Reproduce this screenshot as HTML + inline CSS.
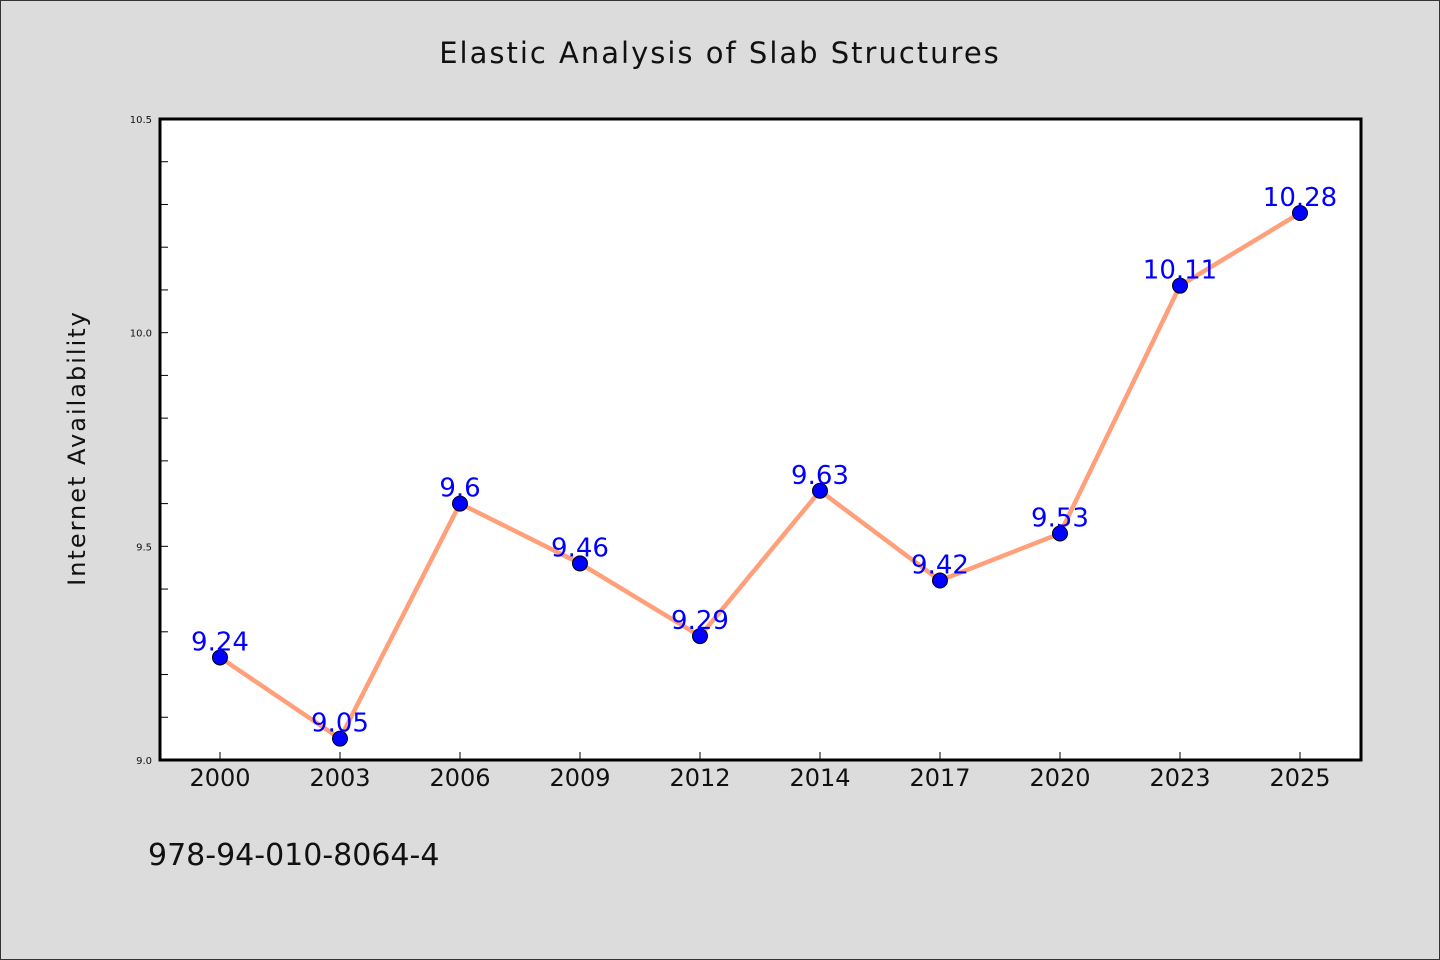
<!DOCTYPE html>
<html><head><meta charset="utf-8"><style>
html,body{margin:0;padding:0;background:#dcdcdc;}
svg{display:block;font-family:"DejaVu Sans","Liberation Sans",sans-serif;}
</style></head><body>
<svg id="chart" width="1440" height="960" xmlns="http://www.w3.org/2000/svg">
<rect x="0.5" y="0.5" width="1439" height="959" fill="#dcdcdc" stroke="#333" stroke-width="1"/>
<text x="720" y="63" text-anchor="middle" font-size="29" letter-spacing="2" fill="#111">Elastic Analysis of Slab Structures</text>
<rect x="160" y="119" width="1201" height="641" fill="#fff"/>
<g id="ticks"></g>
<g id="series"></g>
<rect x="160" y="119" width="1201" height="641" fill="none" stroke="#000" stroke-width="3"/>
<text transform="translate(85,448) rotate(-90)" text-anchor="middle" font-size="24" letter-spacing="2" fill="#111">Internet Availability</text>
<text x="148" y="865" font-size="30" fill="#111">978-94-010-8064-4</text>
</svg>
<script>
const categories=["2000","2003","2006","2009","2012","2014","2017","2020","2023","2025"];
const values=[9.24,9.05,9.6,9.46,9.29,9.63,9.42,9.53,10.11,10.28];
const yTickLabels=["9.0","9.5","10.0","10.5"];
const yMin=9.0,yMax=10.5;
const NS="http://www.w3.org/2000/svg";
const x=i=>220+i*(1080/(categories.length-1));
const y=v=>760-(v-yMin)/(yMax-yMin)*641;
function mk(t,a,p){const e=document.createElementNS(NS,t);for(const k in a)e.setAttribute(k,a[k]);p.appendChild(e);return e;}
const tg=document.getElementById('ticks');
for(let k=0;k<=15;k++){const v=yMin+k*0.1;const l=mk('line',{x1:160,x2:168,y1:y(v),y2:y(v),stroke:'#000','stroke-width':1},tg);

}
yTickLabels.forEach(s=>{const t=mk('text',{x:152,y:y(+s)+4,'text-anchor':'end','font-size':10,fill:'#111'},tg);t.textContent=s;

});
categories.forEach((c,i)=>{const l=mk('line',{x1:x(i),x2:x(i),y1:752,y2:760,stroke:'#000','stroke-width':1},tg);


const t=mk('text',{x:x(i),y:786,'text-anchor':'middle','font-size':24,fill:'#111'},tg);t.textContent=c;

});
const sg=document.getElementById('series');
const pl=mk('polyline',{points:values.map((v,i)=>x(i)+','+y(v)).join(' '),fill:'none',stroke:'#ffa07a','stroke-width':4.5,'stroke-linejoin':'round'},sg);


values.forEach((v,i)=>{const c=mk('circle',{cx:x(i),cy:y(v),r:7.5,fill:'#0000ff',stroke:'#000','stroke-width':1},sg);


const t=mk('text',{x:x(i),y:y(v)-7,'text-anchor':'middle','font-size':26,fill:'#0000ff'},sg);t.textContent=String(v);

});
</script>
</body></html>
